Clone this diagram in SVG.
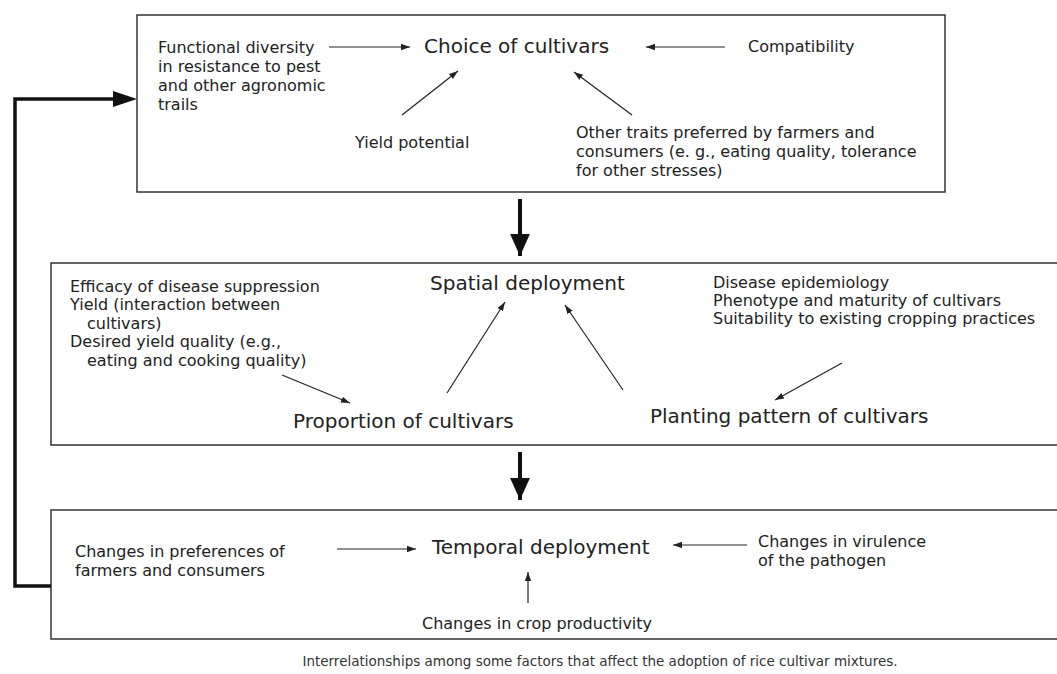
<svg xmlns="http://www.w3.org/2000/svg" width="1057" height="674" viewBox="0 0 1057 674">
<defs>
<marker id="ah" viewBox="0 0 10 10" refX="10" refY="5" markerWidth="9" markerHeight="9" markerUnits="userSpaceOnUse" orient="auto"><path d="M0,1.5 L10,5 L0,8.5 Z" fill="#222"/></marker>
<marker id="big" viewBox="0 0 10 10" refX="10" refY="5" markerWidth="22" markerHeight="22" markerUnits="userSpaceOnUse" orient="auto"><path d="M0,0.5 L10,5 L0,9.5 Z" fill="#111"/></marker>
</defs>
<style>
text{font-family:"DejaVu Sans","Liberation Sans",sans-serif;fill:#222}
.s{font-size:16px}
.l{font-size:20px}
.c{font-size:13.5px;fill:#333}
.box{fill:none;stroke:#333;stroke-width:1.5}
.thin{fill:none;stroke:#222;stroke-width:1.2;marker-end:url(#ah)}
.thick{fill:none;stroke:#111;stroke-width:4;marker-end:url(#big)}
</style>
<rect width="1057" height="674" fill="#fff"/>
<g id="box-choice">
<rect class="box" x="137" y="15" width="808" height="177"/>
<text class="l" x="424" y="53">Choice of cultivars</text>
<text class="s" x="158" y="53">Functional diversity</text>
<text class="s" x="158" y="72">in resistance to pest</text>
<text class="s" x="158" y="91">and other agronomic</text>
<text class="s" x="158" y="110">trails</text>
<text class="s" x="748" y="52">Compatibility</text>
<text class="s" x="355" y="148">Yield potential</text>
<text class="s" x="576" y="138">Other traits preferred by farmers and</text>
<text class="s" x="576" y="157">consumers (e. g., eating quality, tolerance</text>
<text class="s" x="576" y="176">for other stresses)</text>
</g>
<g id="box-spatial">
<path class="box" d="M1057,263 H51 V445 H1057"/>
<text class="l" x="430" y="290">Spatial deployment</text>
<text class="s" x="70" y="292">Efficacy of disease suppression</text>
<text class="s" x="70" y="310">Yield (interaction between</text>
<text class="s" x="87" y="329">cultivars)</text>
<text class="s" x="70" y="347">Desired yield quality (e.g.,</text>
<text class="s" x="87" y="366">eating and cooking quality)</text>
<text class="s" x="713" y="288">Disease epidemiology</text>
<text class="s" x="713" y="306">Phenotype and maturity of cultivars</text>
<text class="s" x="713" y="324">Suitability to existing cropping practices</text>
<text class="l" x="293" y="428">Proportion of cultivars</text>
<text class="l" x="650" y="423">Planting pattern of cultivars</text>
</g>
<g id="box-temporal">
<path class="box" d="M1057,510 H51 V639 H1057"/>
<text class="l" x="432" y="554">Temporal deployment</text>
<text class="s" x="75" y="557">Changes in preferences of</text>
<text class="s" x="75" y="576">farmers and consumers</text>
<text class="s" x="758" y="547">Changes in virulence</text>
<text class="s" x="758" y="566">of the pathogen</text>
<text class="s" x="422" y="629">Changes in crop productivity</text>
</g>
<g id="caption">
<text class="c" x="600" y="666" text-anchor="middle">Interrelationships among some factors that affect the adoption of rice cultivar mixtures.</text>
</g>
<g id="connectors">
<line class="thin" x1="329" y1="47" x2="410" y2="47"/>
<line class="thin" x1="725" y1="47" x2="646" y2="47"/>
<line class="thin" x1="402" y1="115" x2="458" y2="71"/>
<line class="thin" x1="632" y1="115" x2="574" y2="72"/>
<line class="thin" x1="282" y1="375" x2="350" y2="403"/>
<line class="thin" x1="447" y1="393" x2="505" y2="302"/>
<line class="thin" x1="623" y1="390" x2="565" y2="305"/>
<line class="thin" x1="842" y1="363" x2="775" y2="400"/>
<line class="thin" x1="337" y1="549" x2="416" y2="549"/>
<line class="thin" x1="747" y1="545" x2="673" y2="545"/>
<line class="thin" x1="528" y1="603" x2="528" y2="572"/>
<line class="thick" x1="520" y1="199" x2="520" y2="256"/>
<line class="thick" x1="520" y1="452" x2="520" y2="500"/>
<path d="M51,586 H15 V99 H120" fill="none" stroke="#111" stroke-width="3.5"/>
<path d="M113,91 L137,99 L113,107 Z" fill="#111"/>
</g>
</svg>
